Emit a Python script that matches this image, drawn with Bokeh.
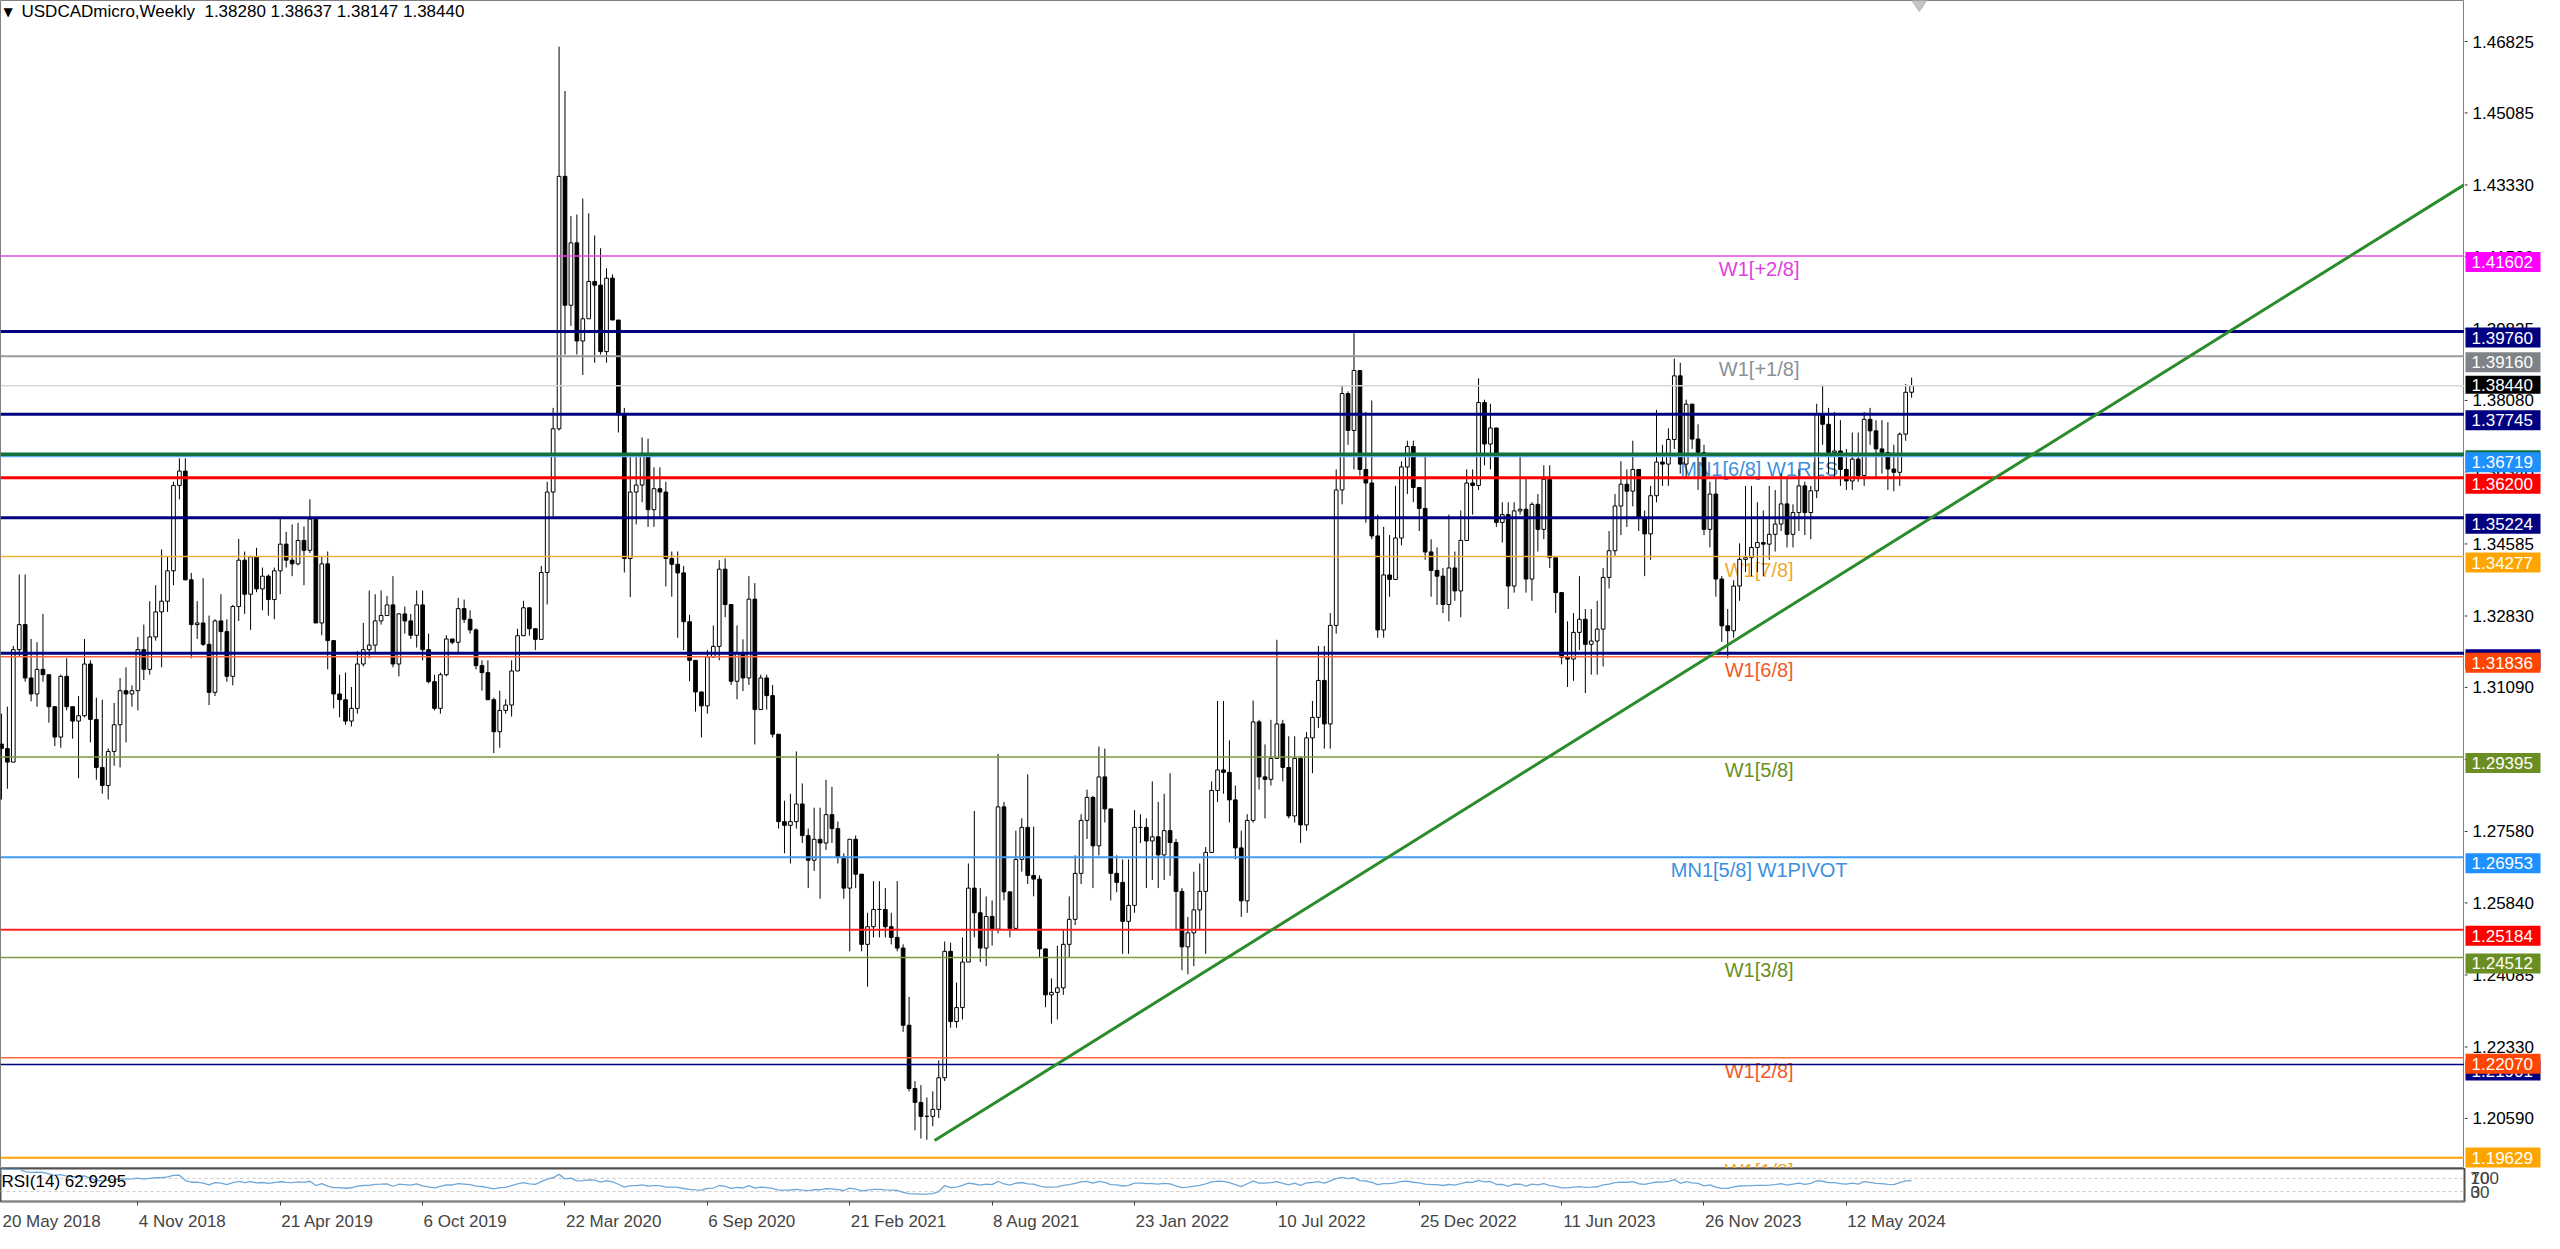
import numpy as np
import pandas as pd
from bokeh.plotting import figure
from bokeh.models import Range1d, FixedTicker, Label
from bokeh.layouts import column, row
from bokeh.embed import file_html
from bokeh.resources import INLINE
from bokeh.core.properties import value

# ---------------- data ----------------
header_text = "USDCADmicro,Weekly\u00a0\u00a01.38280 1.38637 1.38147 1.38440"
rsi_text = "RSI(14) 62.9295"
first_open = 1.2836
current_price = 1.38440

closes = [
    1.2971, 1.2960, 1.2927, 1.3201, 1.3262, 1.3132, 1.3093, 1.3153, 1.3140, 1.3062,
    1.2988, 1.3136, 1.3062, 1.3027, 1.3040, 1.3166, 1.3031, 1.2914, 1.2870, 1.2953,
    1.3018, 1.3101, 1.3093, 1.3101, 1.3201, 1.3153, 1.3232, 1.3293, 1.3319, 1.3393,
    1.3601, 1.3636, 1.3371, 1.3262, 1.3266, 1.3214, 1.3097, 1.3271, 1.3245, 1.3136,
    1.3306, 1.3419, 1.3336, 1.3427, 1.3349, 1.3380, 1.3323, 1.3393, 1.3458, 1.3419,
    1.3410, 1.3467, 1.3443, 1.3519, 1.3266, 1.3410, 1.3223, 1.3093, 1.3079, 1.3027,
    1.3058, 1.3166, 1.3201, 1.3212, 1.3271, 1.3284, 1.3310, 1.3166, 1.3288, 1.3271,
    1.3236, 1.3310, 1.3201, 1.3123, 1.3058, 1.3140, 1.3227, 1.3219, 1.3301, 1.3275,
    1.3249, 1.3162, 1.3145, 1.3079, 1.3001, 1.3053, 1.3066, 1.3149, 1.3235, 1.3303,
    1.3252, 1.3226, 1.3389, 1.3585, 1.3739, 1.4354, 1.4040, 1.4192, 1.3953, 1.4007,
    1.4098, 1.4089, 1.3927, 1.4106, 1.4004, 1.3773, 1.3423, 1.3585, 1.3602, 1.3679,
    1.3542, 1.3593, 1.3585, 1.3423, 1.3409, 1.3388, 1.3269, 1.3175, 1.3098, 1.3064,
    1.3183, 1.3209, 1.3397, 1.3311, 1.3124, 1.3192, 1.3132, 1.3324, 1.3055, 1.3132,
    1.3089, 1.2995, 1.2782, 1.2773, 1.2782, 1.2825, 1.2748, 1.2688, 1.2739, 1.2730,
    1.2799, 1.2765, 1.2696, 1.2620, 1.2739, 1.2654, 1.2483, 1.2526, 1.2568, 1.2568,
    1.2526, 1.2500, 1.2474, 1.2286, 1.2132, 1.2098, 1.2064, 1.2064, 1.2081, 1.2158,
    1.2466, 1.2295, 1.2329, 1.2440, 1.2620, 1.2560, 1.2474, 1.2551, 1.2520, 1.2818,
    1.2611, 1.2522, 1.2690, 1.2768, 1.2651, 1.2642, 1.2472, 1.2360, 1.2366, 1.2377,
    1.2483, 1.2544, 1.2656, 1.2785, 1.2841, 1.2723, 1.2891, 1.2813, 1.2656, 1.2634,
    1.2539, 1.2578, 1.2768, 1.2768, 1.2735, 1.2745, 1.2701, 1.2760, 1.2731, 1.2612,
    1.2477, 1.2511, 1.2567, 1.2612, 1.2707, 1.2858, 1.2908, 1.2902, 1.2835, 1.2718,
    1.2589, 1.2785, 1.3025, 1.2891, 1.2885, 1.2936, 1.3020, 1.2914, 1.2796, 1.2936,
    1.2774, 1.2986, 1.3036, 1.3126, 1.3020, 1.3260, 1.3590, 1.3825, 1.3735, 1.3881,
    1.3640, 1.3607, 1.3478, 1.3249, 1.3383, 1.3372, 1.3473, 1.3646, 1.3696, 1.3596,
    1.3545, 1.3439, 1.3394, 1.3380, 1.3311, 1.3400, 1.3344, 1.3467, 1.3607, 1.3601,
    1.3803, 1.3702, 1.3741, 1.3511, 1.3530, 1.3356, 1.3539, 1.3543, 1.3373, 1.3555,
    1.3494, 1.3616, 1.3425, 1.3340, 1.3182, 1.3178, 1.3243, 1.3275, 1.3214, 1.3222,
    1.3251, 1.3377, 1.3442, 1.3551, 1.3604, 1.3587, 1.3640, 1.3523, 1.3483, 1.3576,
    1.3658, 1.3653, 1.3713, 1.3868, 1.3653, 1.3799, 1.3714, 1.3681, 1.3494, 1.3580,
    1.3373, 1.3259, 1.3247, 1.3356, 1.3421, 1.3425, 1.3450, 1.3462, 1.3458, 1.3482,
    1.3507, 1.3556, 1.3482, 1.3535, 1.3600, 1.3535, 1.3588, 1.3775, 1.3750, 1.3681,
    1.3685, 1.3640, 1.3612, 1.3665, 1.3625, 1.3762, 1.3734, 1.3690, 1.3681, 1.3641,
    1.3633, 1.3726, 1.3828, 1.3844,
]

highs = [
    1.2990, 1.3045, 1.3062, 1.3210, 1.3384, 1.3384, 1.3227, 1.3219, 1.3288, 1.3140,
    1.3062, 1.3140, 1.3180, 1.3062, 1.3088, 1.3227, 1.3175, 1.3084, 1.3079, 1.2960,
    1.3071, 1.3132, 1.3158, 1.3114, 1.3232, 1.3262, 1.3319, 1.3358, 1.3445, 1.3427,
    1.3610, 1.3667, 1.3667, 1.3388, 1.3319, 1.3375, 1.3284, 1.3275, 1.3336, 1.3275,
    1.3310, 1.3471, 1.3440, 1.3430, 1.3449, 1.3401, 1.3384, 1.3401, 1.3523, 1.3488,
    1.3506, 1.3510, 1.3501, 1.3567, 1.3523, 1.3427, 1.3440, 1.3214, 1.3140, 1.3145,
    1.3110, 1.3197, 1.3266, 1.3345, 1.3336, 1.3345, 1.3332, 1.3380, 1.3290, 1.3306,
    1.3288, 1.3345, 1.3345, 1.3240, 1.3140, 1.3145, 1.3236, 1.3227, 1.3327, 1.3323,
    1.3297, 1.3253, 1.3175, 1.3175, 1.3084, 1.3101, 1.3080, 1.3175, 1.3252, 1.3320,
    1.3303, 1.3252, 1.3405, 1.3610, 1.3790, 1.4670, 1.4562, 1.4257, 1.4261, 1.4300,
    1.4264, 1.4210, 1.4179, 1.4130, 1.4115, 1.4004, 1.3790, 1.3670, 1.3670, 1.3718,
    1.3715, 1.3645, 1.3645, 1.3610, 1.3440, 1.3440, 1.3405, 1.3286, 1.3175, 1.3098,
    1.3200, 1.3260, 1.3419, 1.3423, 1.3311, 1.3260, 1.3226, 1.3380, 1.3363, 1.3140,
    1.3140, 1.3115, 1.2995, 1.2833, 1.2850, 1.2953, 1.2875, 1.2765, 1.2816, 1.2816,
    1.2884, 1.2867, 1.2782, 1.2705, 1.2739, 1.2748, 1.2654, 1.2560, 1.2637, 1.2637,
    1.2620, 1.2560, 1.2637, 1.2483, 1.2355, 1.2150, 1.2140, 1.2110, 1.2125, 1.2200,
    1.2490, 1.2487, 1.2390, 1.2500, 1.2680, 1.2808, 1.2620, 1.2600, 1.2590, 1.2947,
    1.2830, 1.2611, 1.2760, 1.2790, 1.2897, 1.2770, 1.2651, 1.2472, 1.2400, 1.2480,
    1.2520, 1.2600, 1.2700, 1.2800, 1.2860, 1.2845, 1.2965, 1.2960, 1.2811, 1.2700,
    1.2690, 1.2690, 1.2810, 1.2800, 1.2790, 1.2880, 1.2830, 1.2850, 1.2900, 1.2740,
    1.2620, 1.2550, 1.2660, 1.2680, 1.2720, 1.2880, 1.3076, 1.3076, 1.2980, 1.2870,
    1.2760, 1.2800, 1.3077, 1.3030, 1.2970, 1.3030, 1.3225, 1.3030, 1.2990, 1.2990,
    1.2940, 1.3000, 1.3076, 1.3210, 1.3210, 1.3290, 1.3640, 1.3845, 1.3830, 1.3977,
    1.3880, 1.3780, 1.3808, 1.3530, 1.3500, 1.3480, 1.3600, 1.3660, 1.3710, 1.3710,
    1.3596, 1.3680, 1.3470, 1.3450, 1.3400, 1.3530, 1.3440, 1.3540, 1.3640, 1.3640,
    1.3862, 1.3810, 1.3800, 1.3741, 1.3560, 1.3560, 1.3560, 1.3680, 1.3620, 1.3560,
    1.3580, 1.3650, 1.3650, 1.3425, 1.3340, 1.3270, 1.3290, 1.3380, 1.3300, 1.3300,
    1.3320, 1.3400, 1.3490, 1.3580, 1.3660, 1.3640, 1.3710, 1.3640, 1.3540, 1.3600,
    1.3785, 1.3700, 1.3740, 1.3910, 1.3900, 1.3810, 1.3800, 1.3750, 1.3700, 1.3610,
    1.3620, 1.3380, 1.3300, 1.3370, 1.3460, 1.3600, 1.3600, 1.3560, 1.3540, 1.3600,
    1.3590, 1.3630, 1.3620, 1.3555, 1.3640, 1.3610, 1.3600, 1.3800, 1.3846, 1.3790,
    1.3780, 1.3760, 1.3690, 1.3730, 1.3730, 1.3780, 1.3790, 1.3760, 1.3760, 1.3755,
    1.3700, 1.3730, 1.3848, 1.38637,
]

lows = [
    1.2746, 1.2836, 1.2862, 1.2949, 1.3184, 1.3123, 1.3075, 1.3062, 1.3123, 1.3023,
    1.2966, 1.2962, 1.3053, 1.2984, 1.2888, 1.3036, 1.2975, 1.2884, 1.2850, 1.2836,
    1.2918, 1.2914, 1.2975, 1.3062, 1.3053, 1.3127, 1.3140, 1.3223, 1.3158, 1.3293,
    1.3358, 1.3567, 1.3371, 1.3180, 1.3227, 1.3210, 1.3066, 1.3088, 1.3197, 1.3123,
    1.3114, 1.3271, 1.3288, 1.3249, 1.3341, 1.3297, 1.3284, 1.3275, 1.3336, 1.3401,
    1.3380, 1.3406, 1.3358, 1.3436, 1.3266, 1.3236, 1.3153, 1.3058, 1.3036, 1.3018,
    1.3014, 1.3045, 1.3160, 1.3180, 1.3193, 1.3262, 1.3284, 1.3158, 1.3136, 1.3240,
    1.3227, 1.3206, 1.3175, 1.3119, 1.3053, 1.3045, 1.3136, 1.3214, 1.3193, 1.3266,
    1.3240, 1.3153, 1.3101, 1.3079, 1.2949, 1.2962, 1.3045, 1.3038, 1.3149, 1.3235,
    1.3235, 1.3200, 1.3243, 1.3311, 1.3525, 1.3735, 1.3920, 1.3990, 1.3920, 1.3870,
    1.4021, 1.3900, 1.3920, 1.3900, 1.4004, 1.3730, 1.3389, 1.3329, 1.3506, 1.3560,
    1.3500, 1.3500, 1.3525, 1.3355, 1.3330, 1.3230, 1.3200, 1.3124, 1.3050, 1.2987,
    1.3045, 1.3183, 1.3175, 1.3280, 1.3115, 1.3080, 1.3100, 1.3115, 1.2970, 1.3055,
    1.3055, 1.2987, 1.2765, 1.2705, 1.2680, 1.2765, 1.2730, 1.2620, 1.2662, 1.2594,
    1.2713, 1.2730, 1.2680, 1.2594, 1.2466, 1.2620, 1.2466, 1.2380, 1.2500, 1.2500,
    1.2500, 1.2483, 1.2466, 1.2270, 1.2125, 1.2030, 1.2010, 1.2007, 1.2040, 1.2060,
    1.2150, 1.2280, 1.2280, 1.2300, 1.2440, 1.2500, 1.2440, 1.2430, 1.2480, 1.2510,
    1.2590, 1.2500, 1.2520, 1.2660, 1.2630, 1.2600, 1.2450, 1.2330, 1.2290, 1.2300,
    1.2360, 1.2450, 1.2530, 1.2630, 1.2740, 1.2620, 1.2700, 1.2780, 1.2590, 1.2610,
    1.2460, 1.2460, 1.2560, 1.2730, 1.2620, 1.2640, 1.2620, 1.2640, 1.2650, 1.2520,
    1.2420, 1.2410, 1.2430, 1.2520, 1.2460, 1.2720, 1.2830, 1.2850, 1.2780, 1.2690,
    1.2550, 1.2560, 1.2780, 1.2860, 1.2790, 1.2870, 1.2950, 1.2880, 1.2790, 1.2780,
    1.2730, 1.2760, 1.2900, 1.3010, 1.2960, 1.2960, 1.3240, 1.3555, 1.3700, 1.3640,
    1.3625, 1.3510, 1.3470, 1.3230, 1.3230, 1.3330, 1.3380, 1.3455, 1.3580, 1.3560,
    1.3490, 1.3420, 1.3330, 1.3310, 1.3290, 1.3270, 1.3320, 1.3280, 1.3470, 1.3530,
    1.3590, 1.3650, 1.3640, 1.3500, 1.3462, 1.3300, 1.3340, 1.3530, 1.3340, 1.3320,
    1.3440, 1.3470, 1.3400, 1.3290, 1.3165, 1.3110, 1.3125, 1.3200, 1.3095, 1.3140,
    1.3140, 1.3160, 1.3350, 1.3430, 1.3480, 1.3500, 1.3550, 1.3490, 1.3380, 1.3420,
    1.3560, 1.3600, 1.3600, 1.3690, 1.3630, 1.3620, 1.3690, 1.3590, 1.3480, 1.3450,
    1.3330, 1.3220, 1.3180, 1.3230, 1.3320, 1.3390, 1.3380, 1.3390, 1.3380, 1.3420,
    1.3440, 1.3490, 1.3450, 1.3450, 1.3490, 1.3480, 1.3470, 1.3570, 1.3700, 1.3630,
    1.3620, 1.3600, 1.3590, 1.3590, 1.3610, 1.3600, 1.3700, 1.3620, 1.3630, 1.3590,
    1.3587, 1.3600, 1.3710, 1.38147,
]

date_tick_bars = [0, 24, 48, 72, 96, 120, 144, 168, 192, 216, 240, 264, 288, 312]
date_tick_labels = ["20 May 2018", "4 Nov 2018", "21 Apr 2019", "6 Oct 2019",
                    "22 Mar 2020", "6 Sep 2020", "21 Feb 2021", "8 Aug 2021",
                    "23 Jan 2022", "10 Jul 2022", "25 Dec 2022", "11 Jun 2023",
                    "26 Nov 2023", "12 May 2024"]

price_ticks = [1.46825, 1.45085, 1.43330, 1.41580, 1.39825, 1.38080, 1.36340, 1.34585,
               1.32830, 1.31090, 1.29335, 1.27580, 1.25840, 1.24085, 1.22330, 1.20590]

# horizontal level lines
level_prices = [1.41602, 1.39760, 1.39160, 1.38440, 1.37745, 1.36719, 1.36770, 1.36200,
                1.35224, 1.34277, 1.31920, 1.31836, 1.29395, 1.26953, 1.25184, 1.24512,
                1.22070, 1.21901, 1.19629]
level_colors = ["#e548e5", "#000080", "#9a9a9a", "#d6d6d6", "#000080", "#5aaaf0", "#12703f",
                "#ff0000", "#000080", "#f2b134", "#000080", "#ff6a3c", "#7e9a3e", "#3f9cf0",
                "#ff2424", "#7e9a3e", "#ff6a3c", "#000080", "#ffa500"]
level_widths = [1.5, 3, 2, 1.5, 3, 2, 3.5, 3, 3, 1.5, 3, 1.5, 1.5, 2, 2, 1.5, 1.5, 1.5, 2]

# price tags on the right scale (drawn in this order)
tag_prices = [1.36770, 1.31920, 1.21901,
              1.41602, 1.39760, 1.39160, 1.38440, 1.37745, 1.36719, 1.36200, 1.35224,
              1.34277, 1.31836, 1.29395, 1.26953, 1.25184, 1.24512, 1.22070, 1.19629]
tag_colors = ["#12703f", "#000080", "#000080",
              "#ff00ff", "#000080", "#7f8387", "#000000", "#000080", "#1e90ff", "#ff0000",
              "#000080", "#ffa500", "#ff4500", "#6b8e23", "#1e90ff", "#ff0000", "#6b8e23",
              "#ff4500", "#ffa500"]

# level captions
caption_texts = ["W1[+2/8]", "W1[+1/8]", "MN1[6/8] W1RES", "W1[7/8]", "W1[6/8]",
                 "W1[5/8]", "MN1[5/8] W1PIVOT", "W1[3/8]", "W1[2/8]", "W1[1/8]"]
caption_prices = [1.41602, 1.39160, 1.36719, 1.34277, 1.31836, 1.29395, 1.26953,
                  1.24512, 1.22070, 1.19629]
caption_colors = ["#e040e0", "#8a9098", "#3d8fe0", "#f0a830", "#f05a28", "#6b8e23",
                  "#3d8fe0", "#6b8e23", "#f05a28", "#f0a830"]
caption_bar = 297.3

# trend line (bar index, price)
trend_bars = [158.3, 416.2]
trend_prices = [1.2005, 1.4334]

rsi_levels = [70, 30]

# ---------------- geometry ----------------
SCALE_W = 80
FW = 2464
W = FW + SCALE_W
MAIN_H = 1168
RSI_H = 65
AXIS_H = 26
X0, X1 = 0.8427, 416.2
Y0, Y1 = 1.19370, 1.47824
ppb = FW / (X1 - X0)
ppu = MAIN_H / (Y1 - Y0)
FONT = "Liberation Sans"

n = len(closes)
assert len(highs) == n and len(lows) == n, (n, len(highs), len(lows))
c = np.array(closes)
o = np.r_[first_open, c[:-1]]
h = np.maximum(np.array(highs), np.maximum(o, c))
l = np.minimum(np.array(lows), np.minimum(o, c))
idx = np.arange(n)
up = c >= o

# ---------------- main chart ----------------
p = figure(width=FW, height=MAIN_H, x_range=Range1d(X0, X1), y_range=Range1d(Y0, Y1),
           output_backend="svg", toolbar_location=None, x_axis_location=None,
           y_axis_location=None, min_border_left=0, min_border_right=0,
           min_border_top=0, min_border_bottom=0, background_fill_color="white",
           border_fill_color="white", outline_line_color="#808080", outline_line_width=1)
p.grid.visible = False

p.text(x=[caption_bar] * len(caption_texts), y=caption_prices, text=caption_texts,
       text_color=caption_colors, text_font=value(FONT), text_font_size="20px",
       text_align="center", text_baseline="top", y_offset=2)

p.segment(x0=idx, y0=h, x1=idx, y1=l, line_color="black", line_width=1)
p.vbar(x=idx[up], top=c[up], bottom=o[up], width=0.62, fill_color="white",
       line_color="black", line_width=1)
p.vbar(x=idx[~up], top=o[~up], bottom=c[~up], width=0.62, fill_color="black",
       line_color="black", line_width=1)

for pr, col, lw in zip(level_prices, level_colors, level_widths):
    p.segment(x0=[X0], y0=[pr], x1=[X1], y1=[pr], line_color=col, line_width=lw)

p.line(trend_bars, trend_prices, line_color="#2a8c2a", line_width=3)

p.scatter(x=[324.3], y=[Y1], marker="diamond", size=22, fill_color="#c4c4c4",
          line_color="#b0b0b0")

p.add_layout(Label(x=X0 + 3 / ppb, y=Y1 - 11 / ppu, text="\u25bc", text_color="black",
                   text_font="DejaVu Sans", text_font_size="12px", text_baseline="middle"))
p.add_layout(Label(x=X0 + 21 / ppb, y=Y1 - 11 / ppu, text=header_text, text_color="black",
                   text_font=FONT, text_font_size="17px", text_baseline="middle"))

# ---------------- right price scale ----------------
s = figure(width=SCALE_W, height=MAIN_H, x_range=Range1d(0, SCALE_W), y_range=p.y_range,
           output_backend="svg", toolbar_location=None, x_axis_location=None,
           y_axis_location=None, min_border_left=0, min_border_right=0,
           min_border_top=0, min_border_bottom=0, background_fill_color="white",
           border_fill_color="white", outline_line_color=None)
s.grid.visible = False
s.segment(x0=0, y0=price_ticks, x1=3, y1=price_ticks, line_color="#303030", line_width=1)
s.text(x=8, y=price_ticks, text=[f"{t:.5f}" for t in price_ticks], text_color="black",
       text_font=value(FONT), text_font_size="17px", text_align="left",
       text_baseline="middle")
for pr, col in zip(tag_prices, tag_colors):
    is_bid = abs(pr - current_price) < 1e-9
    off_px = -1 if is_bid else 6          # tag centre below the level line, in pixels
    half_px = 9 if is_bid else 10         # half height of the tag
    centre_px = (Y1 - pr) * ppu + off_px  # from the top of the frame
    centre_px = min(centre_px, MAIN_H - half_px - 1)
    yc = Y1 - centre_px / ppu
    s.quad(left=[1], right=[76], top=[yc + half_px / ppu], bottom=[yc - half_px / ppu],
           fill_color=col, line_color=None)
    s.text(x=[7], y=[yc], text=[f"{pr:.5f}"], text_color="white",
           text_font=value(FONT), text_font_size="17px", text_align="left",
           text_baseline="middle")

# ---------------- RSI ----------------
delta = np.diff(np.r_[first_open, c])
gain = pd.Series(np.clip(delta, 0, None))
loss = pd.Series(np.clip(-delta, 0, None))
ag = gain.ewm(alpha=1 / 14, adjust=False).mean()
al = loss.ewm(alpha=1 / 14, adjust=False).mean()
rsi = (100 - 100 / (1 + ag / al.replace(0, np.nan))).fillna(50).values

r = figure(width=W, height=RSI_H, x_range=p.x_range, y_range=Range1d(0, 100),
           output_backend="svg", toolbar_location=None, y_axis_location="right",
           min_border_left=0, min_border_right=SCALE_W, min_border_top=0,
           min_border_bottom=AXIS_H, background_fill_color="white",
           border_fill_color="white", outline_line_color="#505050", outline_line_width=2)
r.grid.visible = False
for lv in rsi_levels:
    r.segment(x0=[X0], y0=[lv], x1=[X1], y1=[lv], line_color="#c8c8c8",
              line_width=1, line_dash="3 3")
r.line(idx, rsi, line_color="#6fa8d8", line_width=1.3)
r.add_layout(Label(x=X0 + 1 / ppb, y=60, text=rsi_text, text_color="black",
                   text_font=FONT, text_font_size="17px", text_baseline="middle"))

ry = r.yaxis[0]
ry.ticker = FixedTicker(ticks=[70.01, 70, 30, 29.99])
ry.major_label_overrides = {70.01: "100", 70: "70", 30: "30", 29.99: "0"}
ry.major_label_text_font = FONT
ry.major_label_text_font_size = "17px"
ry.major_tick_out = 0
ry.major_tick_in = 0
ry.minor_tick_out = 0
ry.minor_tick_in = 0
ry.major_label_standoff = 6
ry.axis_line_color = None

# date labels: left-aligned at each tick mark
char_w = {"0": .556, "1": .556, "2": .556, "3": .556, "4": .556, "5": .556, "6": .556,
          "7": .556, "8": .556, "9": .556, " ": .278, "M": .833, "a": .556, "y": .5,
          "N": .722, "o": .556, "v": .5, "A": .667, "p": .556, "r": .333, "O": .778,
          "c": .5, "t": .278, "S": .667, "e": .556, "F": .611, "b": .556, "u": .556,
          "g": .556, "J": .5, "n": .556, "l": .222, "D": .722}
centers = []
for b, lab in zip(date_tick_bars, date_tick_labels):
    wpx = sum(char_w.get(ch, .556) for ch in lab) * 17
    left_px = max((b - X0) * ppb, 1.0)
    centers.append(round(X0 + (left_px + wpx / 2 + 1) / ppb, 4))
rx = r.xaxis[0]
rx.ticker = FixedTicker(ticks=centers, minor_ticks=date_tick_bars)
rx.major_label_overrides = {cv: lab for cv, lab in zip(centers, date_tick_labels)}
rx.major_label_text_font = FONT
rx.major_label_text_font_size = "17px"
rx.major_tick_out = 0
rx.major_tick_in = 0
rx.minor_tick_out = 4
rx.minor_tick_in = 0
rx.minor_tick_line_color = "#404040"
rx.major_label_standoff = 6
rx.axis_line_color = "#808080"

layout = column(row(p, s, spacing=0), r, spacing=0)
open("out.html", "w").write(file_html(layout, INLINE))
